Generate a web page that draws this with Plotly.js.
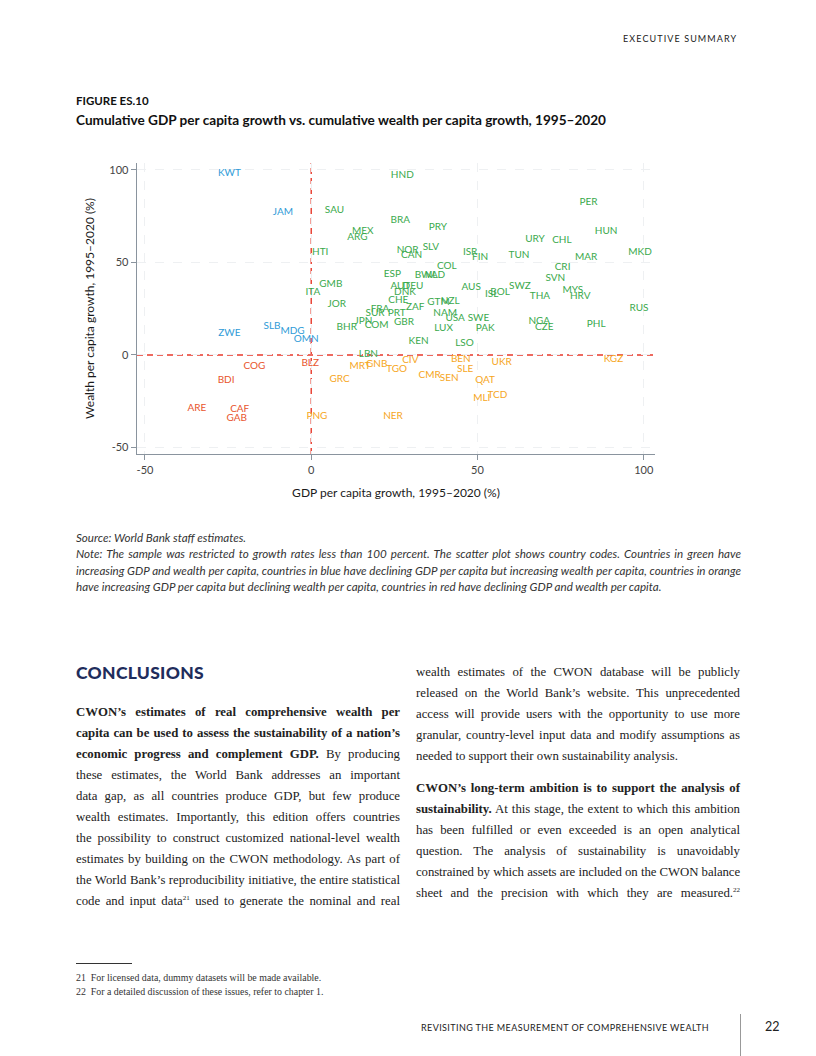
<!DOCTYPE html>
<html>
<head>
<meta charset="utf-8">
<script src="https://cdn.plot.ly/plotly-3.0.1.min.js"></script>
<style>
  html, body { margin:0; padding:0; background:#fff; }
  body { width:816px; height:1056px; position:relative; overflow:hidden; font-family: Lato, "Open Sans", sans-serif; color:#1a1a1a; }
  .abs { position:absolute; white-space:nowrap; }
  .hdr { font-size:9px; letter-spacing:1.1px; color:#222; }
  .figlab { font-weight:700; font-size:11.5px; color:#111; }
  .figtitle { font-weight:700; font-size:13.6px; color:#111; }
  .note { font-style:italic; font-size:11.6px; color:#333; width:665px; }
  .just { text-align:justify; text-align-last:justify; }
  .body { font-family:"Liberation Serif", "Times New Roman", serif; font-size:12.8px; color:#222; width:324px; }
  .body b { font-weight:700; }
  sup { font-size:7px; line-height:0; vertical-align:5px; }
  .fn { font-family:"Liberation Serif", serif; font-size:9.9px; color:#333; }
</style>
</head>
<body>
<div class="abs hdr" style="left:623px; top:33px;">EXECUTIVE SUMMARY</div>
<div class="abs figlab" style="left:76px; top:94px;">FIGURE ES.10</div>
<div class="abs figtitle" style="left:76px; top:112px;">Cumulative GDP per capita growth vs. cumulative wealth per capita growth, 1995–2020</div>

<div id="chart" style="position:absolute; left:0; top:140px; width:816px; height:380px;"></div>

<div class="abs note" style="left:76px; top:531px;">Source: World Bank staff estimates.</div>
<div class="abs note just" style="left:76px; top:547px;">Note: The sample was restricted to growth rates less than 100 percent. The scatter plot shows country codes. Countries in green have</div>
<div class="abs note just" style="left:76px; top:564px;">increasing GDP and wealth per capita, countries in blue have declining GDP per capita but increasing wealth per capita, countries in orange</div>
<div class="abs note" style="left:76px; top:580px;">have increasing GDP per capita but declining wealth per capita, countries in red have declining GDP and wealth per capita.</div>

<div class="abs" style="left:76px; top:662px; font-family:Lato, sans-serif; font-weight:900; font-size:17.5px; color:#1f2d5c; letter-spacing:0.3px;">CONCLUSIONS</div>

<div id="left"></div>
<div id="right"></div>

<div class="abs" style="left:76px; top:963px; width:56px; height:1px; background:#333;"></div>
<div class="abs fn" style="left:76px; top:972px;">21&nbsp; For licensed data, dummy datasets will be made available.</div>
<div class="abs fn" style="left:76px; top:986px;">22&nbsp; For a detailed discussion of these issues, refer to chapter 1.</div>

<div class="abs hdr" style="left:421px; top:1022px; letter-spacing:0.4px; font-size:9px;">REVISITING THE MEASUREMENT OF COMPREHENSIVE WEALTH</div>
<div class="abs" style="left:740px; top:1014px; width:1px; height:42px; background:#999;"></div>
<div class="abs" style="left:765px; top:1019px; font-size:12.5px; color:#222;">22</div>

<script>
// ---- Data ----
const codes = ["KWT","JAM","HTI","HND","SAU","BRA","PRY","MEX","ARG","NOR","CAN","SLV","ISR","FIN","COL","ESP","BWA","NLD","AUT","DEU","DNK","CHE","ZAF","SUR","FRA","PRT","JPN","COM","BHR","GBR","GTM","NZL","NAM","USA","LUX","KEN","LSO","GMB","ITA","JOR","LBN","MRT","GNB","TGO","CIV","GRC","CMR","SEN","BEN","SLE","PNG","NER","BLZ","AUS","ISL","BOL","SWZ","THA","MYS","HRV","RUS","SWE","PAK","NGA","CZE","PHL","UKR","QAT","MLI","TCD","KGZ","PER","HUN","URY","CHL","TUN","MAR","MKD","CRI","SVN","ZWE","SLB","MDG","OMN","COG","BDI","ARE","CAF","GAB"];
const gdpGrowth = [-24.6,-8.5,2.7,27.4,7.0,26.8,38.1,15.5,13.9,29.0,30.2,36.0,47.8,50.8,40.8,24.4,34.6,37.2,26.8,30.6,28.2,26.2,31.3,19.2,20.7,25.7,15.7,19.7,10.7,27.9,38.3,41.8,40.3,43.3,39.8,32.3,46.1,5.9,0.5,7.7,17.2,14.7,19.7,25.7,29.8,8.5,35.6,41.5,45.0,46.3,1.7,24.6,-0.3,48.1,54.3,56.8,62.8,68.8,78.7,80.9,98.6,50.3,52.3,68.6,70.1,85.7,57.3,52.3,51.3,56.0,90.9,83.4,88.7,67.3,75.4,62.5,82.7,98.9,75.6,73.4,-24.6,-11.8,-5.6,-1.5,-17.1,-25.6,-34.4,-21.5,-22.4];
const wealthGrowth = [97.8,76.8,55.1,96.9,77.9,72.8,68.9,66.9,63.4,56.2,53.5,57.8,55.5,52.4,47.9,43.4,43.0,43.0,37.0,37.0,33.8,29.4,25.5,22.6,24.4,22.6,18.2,15.9,14.6,17.4,28.2,29.1,22.2,19.5,14.4,7.4,6.0,38.1,34.0,27.3,0.5,-6.2,-5.4,-7.6,-3.1,-13.4,-11.2,-12.5,-2.7,-7.8,-33.5,-33.3,-4.5,36.3,32.7,34.0,37.0,31.6,34.9,31.6,24.9,19.5,14.4,18.2,14.6,16.3,-4.0,-13.9,-23.3,-21.7,-2.2,82.4,66.5,62.5,62.0,53.9,52.9,55.6,47.0,41.2,11.7,15.3,12.8,8.1,-6.2,-13.6,-29.0,-29.3,-34.4];
const tickVals = [-50, 0, 50, 100];
const tickText = ["-50", "0", "50", "100"];

// quadrant colours, as described in the figure note
const GREEN = "#3aa94c", BLUE = "#2f9bd7", ORANGE = "#f6a623", RED = "#e8542c";
const colors = codes.map((c, i) => {
  const g = gdpGrowth[i], w = wealthGrowth[i];
  if (g >= 0 && w >= 0) return GREEN;
  if (g < 0 && w >= 0) return BLUE;
  if (g >= 0 && w < 0) return ORANGE;
  return RED;
});

const axisCol = "#8a949e";
const trace = {
  type: "scatter", mode: "text",
  x: gdpGrowth, y: wealthGrowth, text: codes,
  textposition: "middle center",
  textfont: { family: "Lato, 'Open Sans', sans-serif", size: 10, color: colors },
  hoverinfo: "none", cliponaxis: false
};

const layout = {
  width: 816, height: 380,
  margin: { l: 137, r: 161, t: 23, b: 66 },
  paper_bgcolor: "rgba(0,0,0,0)", plot_bgcolor: "rgba(0,0,0,0)",
  showlegend: false,
  font: { family: "Lato, 'Open Sans', sans-serif", color: "#333" },
  xaxis: {
    range: [-52.4, 103.4], tickvals: tickVals, ticktext: tickText,
    ticks: "outside", ticklen: 5, tickcolor: axisCol, tickwidth: 1,
    showline: true, linecolor: axisCol, linewidth: 1.3,
    showgrid: true, gridcolor: "#eef0f2", griddash: "dash", gridwidth: 1,
    zeroline: false, tickfont: { size: 11, color: "#444" },
    title: { text: "GDP per capita growth, 1995–2020 (%)", font: { size: 12, color: "#1a1a1a" }, standoff: 14 },
    automargin: false, fixedrange: true
  },
  yaxis: {
    range: [-53.5, 103.7], tickvals: tickVals, ticktext: tickText,
    ticks: "outside", ticklen: 5, tickcolor: axisCol, tickwidth: 1,
    showline: true, linecolor: axisCol, linewidth: 1.3,
    showgrid: true, gridcolor: "#eef0f2", griddash: "dash", gridwidth: 1,
    zeroline: false, tickfont: { size: 11, color: "#444" },
    title: { text: "Wealth per capita growth, 1995–2020 (%)", font: { size: 12, color: "#1a1a1a" }, standoff: 12 },
    automargin: false, fixedrange: true
  },
  shapes: [
    { type: "line", xref: "x", yref: "paper", x0: 0, x1: 0, y0: 0, y1: 1, line: { color: "#e8392b", width: 1.4, dash: "6px,4px" }, layer: "below" },
    { type: "line", xref: "paper", yref: "y", x0: 0, x1: 1, y0: 0, y1: 0, line: { color: "#e8392b", width: 1.4, dash: "6px,4px" }, layer: "below" }
  ]
};
Plotly.newPlot("chart", [trace], layout, { displayModeBar: false, staticPlot: true });

// ---- Body text, line by line ----
const leftLines = [
  ["<b>CWON’s estimates of real comprehensive wealth per</b>", 1],
  ["<b>capita can be used to assess the sustainability of a nation’s</b>", 1],
  ["<b>economic progress and complement GDP.</b> By producing", 1],
  ["these estimates, the World Bank addresses an important", 1],
  ["data gap, as all countries produce GDP, but few produce", 1],
  ["wealth estimates. Importantly, this edition offers countries", 1],
  ["the possibility to construct customized national-level wealth", 1],
  ["estimates by building on the CWON methodology. As part of", 1],
  ["the World Bank’s reproducibility initiative, the entire statistical", 1],
  ["code and input data<sup>21</sup> used to generate the nominal and real", 1]
];
const rightLines = [
  ["wealth estimates of the CWON database will be publicly", 1, 665],
  ["released on the World Bank’s website. This unprecedented", 1, 686],
  ["access will provide users with the opportunity to use more", 1, 707],
  ["granular, country-level input data and modify assumptions as", 1, 728],
  ["needed to support their own sustainability analysis.", 0, 749],
  ["<b>CWON’s long-term ambition is to support the analysis of</b>", 1, 781],
  ["<b>sustainability.</b> At this stage, the extent to which this ambition", 1, 802],
  ["has been fulfilled or even exceeded is an open analytical", 1, 823],
  ["question. The analysis of sustainability is unavoidably", 1, 844],
  ["constrained by which assets are included on the CWON balance", 1, 865],
  ["sheet and the precision with which they are measured.<sup>22</sup>", 1, 886]
];
function place(lines, left, topStart, container) {
  const host = document.getElementById(container);
  lines.forEach((ln, i) => {
    const d = document.createElement("div");
    d.className = "abs body" + (ln[1] ? " just" : "");
    d.style.left = left + "px";
    d.style.top = (ln[2] !== undefined ? ln[2] : topStart + i * 21) + "px";
    d.innerHTML = ln[0];
    host.appendChild(d);
    const probe = document.createElement("span");
    probe.className = "abs body";
    probe.style.width = "auto"; probe.style.visibility = "hidden";
    probe.innerHTML = ln[0];
    host.appendChild(probe);
    const w = probe.getBoundingClientRect().width;
    const n = probe.textContent.length;
    host.removeChild(probe);
    if (w > 322) d.style.letterSpacing = ((322 - w) / n).toFixed(3) + "px";
  });
}
place(leftLines, 76, 705, "left");
place(rightLines, 416, 665, "right");
</script>
</body>
</html>
